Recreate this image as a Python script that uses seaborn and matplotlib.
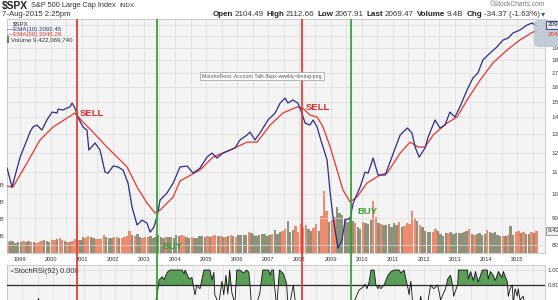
import numpy as np
import pandas as pd
import matplotlib
matplotlib.use("Agg")
import matplotlib.pyplot as plt
import seaborn as sns
from matplotlib.patches import FancyBboxPatch
from matplotlib.ticker import NullLocator

# ---------------- data ----------------
years = list(range(1999, 2016))
price_ticks = [800, 900, 1000, 1100, 1200, 1300, 1400, 1500, 1600, 1700, 1800, 1900, 2000, 2100]
vol_ticks_b = [10, 20, 30, 40]

ema10_t = [1998.60, 1998.76, 1999.02, 1999.34, 1999.43, 1999.56, 1999.72, 1999.88, 2000.05, 2000.21,
           2000.24, 2000.40, 2000.53, 2000.62, 2000.69, 2000.78, 2000.88, 2001.04, 2001.17, 2001.23,
           2001.43, 2001.59, 2001.75, 2001.85, 2002.01, 2002.17, 2002.33, 2002.49, 2002.62, 2002.78,
           2002.94, 2003.10, 2003.20, 2003.32, 2003.42, 2003.52, 2003.74, 2003.94, 2004.16, 2004.39,
           2004.58, 2004.80, 2005.03, 2005.19, 2005.35, 2005.54, 2005.77, 2005.93, 2006.09, 2006.32,
           2006.41, 2006.57, 2006.73, 2006.99, 2007.22, 2007.38, 2007.54, 2007.63, 2007.79, 2007.95,
           2008.08, 2008.18, 2008.34, 2008.44, 2008.57, 2008.66, 2008.89, 2008.99, 2009.08, 2009.24,
           2009.37, 2009.47, 2009.63, 2009.73, 2009.95, 2010.11, 2010.21, 2010.37, 2010.53, 2010.76,
           2011.02, 2011.24, 2011.47, 2011.62, 2011.72, 2011.85, 2012.04, 2012.14, 2012.36, 2012.52,
           2012.68, 2012.84, 2013.00, 2013.16, 2013.39, 2013.58, 2013.74, 2013.90, 2014.13, 2014.35,
           2014.55, 2014.71, 2014.87, 2015.09, 2015.32, 2015.48, 2015.62]
ema10_v = [1121, 1031, 1176, 1313, 1342, 1354, 1324, 1384, 1433, 1427,
           1452, 1446, 1459, 1465, 1491, 1459, 1402, 1342, 1324, 1213,
           1251, 1213, 1101, 1096, 1131, 1126, 1111, 1049, 944, 873,
           892, 880, 846, 865, 904, 974, 1004, 1049, 1126, 1131,
           1096, 1120, 1176, 1197, 1171, 1197, 1213, 1224, 1268, 1296,
           1313, 1268, 1307, 1384, 1427, 1491, 1524, 1491, 1511, 1491,
           1427, 1366, 1354, 1384, 1342, 1284, 1161, 1004, 904, 789,
           817, 892, 900, 961, 1031, 1101, 1096, 1171, 1087, 1087,
           1197, 1296, 1336, 1307, 1229, 1176, 1224, 1284, 1384, 1336,
           1354, 1433, 1402, 1465, 1579, 1664, 1701, 1801, 1857, 1907,
           1966, 1983, 2028, 2054, 2100, 2118, 2092]

ema50_t = [1998.60, 1998.79, 1999.24, 1999.66, 2000.08, 2000.53, 2000.78, 2001.04, 2001.36, 2001.81,
           2002.14, 2002.46, 2002.78, 2003.10, 2003.36, 2003.52, 2003.94, 2004.16, 2004.80, 2005.22,
           2005.77, 2006.32, 2006.64, 2007.06, 2007.47, 2007.92, 2008.11, 2008.34, 2008.57, 2008.76,
           2008.99, 2009.21, 2009.40, 2009.63, 2009.85, 2010.17, 2010.59, 2010.82, 2011.24, 2011.56,
           2011.82, 2012.04, 2012.30, 2012.75, 2013.07, 2013.39, 2013.81, 2014.22, 2014.68, 2015.09,
           2015.51, 2015.62]
ema50_v = [1036, 1031, 1146, 1268, 1342, 1396, 1427, 1372, 1313, 1229,
           1176, 1126, 1031, 961, 920, 932, 987, 1059, 1111, 1176,
           1213, 1256, 1256, 1354, 1427, 1465, 1459, 1414, 1402, 1342,
           1229, 1111, 1018, 966, 987, 1049, 1087, 1096, 1197, 1256,
           1229, 1229, 1296, 1366, 1402, 1511, 1649, 1777, 1882, 1966,
           2036, 2046]

vol_start = "1998-08-01"
volume_b = [6.5, 7.2, 6.8, 6.0, 6.3,
            6.2, 6.8, 6.5, 7.0, 6.6, 6.4, 6.1, 6.3, 6.9, 7.4, 6.8, 6.2,
            7.5, 7.8, 8.4, 8.8, 7.4, 7.0, 6.6, 6.2, 6.8, 8.0, 7.6, 7.9,
            9.3, 8.6, 9.8, 9.4, 8.7, 8.3, 8.2, 8.0, 10.6, 9.7, 9.0, 8.6,
            9.4, 9.2, 8.8, 9.1, 9.3, 10.2, 13.2, 10.8, 10.0, 11.1, 9.6, 8.8,
            9.2, 9.4, 9.8, 9.0, 9.3, 10.4, 9.5, 8.6, 9.4, 9.7, 9.2, 8.8,
            10.4, 10.0, 10.6, 10.1, 9.6, 9.1, 9.5, 8.7, 9.0, 9.8, 10.1, 9.4,
            10.0, 9.7, 10.2, 10.5, 9.8, 10.1, 9.4, 9.3, 9.9, 10.6, 10.0, 9.5,
            10.6, 10.4, 10.8, 10.5, 12.2, 11.8, 10.6, 9.8, 10.7, 11.4, 11.0, 10.2,
            10.5, 11.2, 13.4, 11.4, 12.1, 12.8, 14.2, 19.0, 12.6, 13.4, 15.6, 12.2,
            16.8, 14.9, 16.5, 14.0, 13.2, 14.6, 17.2, 13.0, 22.0, 36.5, 24.5, 18.0,
            19.6, 21.4, 27.0, 23.6, 22.5, 20.6, 18.2, 20.4, 18.6, 17.8, 15.4, 14.2,
            18.4, 17.6, 16.8, 19.2, 30.5, 21.4, 17.8, 16.9, 16.5, 16.2, 17.0, 15.2,
            17.4, 16.2, 18.0, 15.4, 15.6, 17.8, 16.8, 24.5, 20.4, 18.6, 16.2, 15.0,
            12.8, 12.4, 12.5, 12.2, 14.0, 13.2, 11.4, 10.2, 11.8, 12.0, 12.6, 11.2,
            12.0, 11.8, 11.5, 12.3, 12.8, 14.4, 11.0, 10.6, 11.4, 12.0, 10.8, 11.2,
            13.4, 12.2, 11.8, 12.6, 10.4, 10.2, 10.0, 9.8, 10.6, 15.6, 10.8, 12.4,
            13.2, 11.6, 12.4, 11.0, 11.4, 12.2, 11.6, 13.0]
volume_dir = ("d uuuu "
              "udu udu ddd uuu " "ddu ddu dud ddu " "udd uud ddd uuu " "ddu ddd dud uud "
              "ddu uuu uud uuu " "uud duu duu uuu " "dud dud udu dud " "uuu udu uuu uuu "
              "udu uud duu udd " "ddd uud dud ddu " "ddu uuu uuu duu " "duu udd udu uuu "
              "uud udd ddd udu " "uuu ddu uuu duu " "uuu uud udu uuu " "duu uuu dud uud "
              "dud uud ud")

stoch_t = [1998.60, 1998.90, 1999.30, 1999.52, 1999.70, 2000.00, 2000.40, 2000.80, 2001.20, 2001.60,
           2002.00, 2002.40, 2002.80, 2003.10, 2003.36, 2003.42, 2003.52, 2003.58, 2003.68, 2003.77,
           2003.94, 2004.16, 2004.23, 2004.26, 2004.39, 2004.48, 2004.58, 2004.64, 2004.74, 2004.87,
           2005.06, 2005.13, 2005.19, 2005.22, 2005.35, 2005.45, 2005.51, 2005.58, 2005.64, 2005.70,
           2005.77, 2005.87, 2005.93, 2006.03, 2006.15, 2006.25, 2006.32, 2006.35, 2006.41, 2006.57,
           2006.67, 2006.77, 2006.96, 2007.01, 2007.06, 2007.12, 2007.15, 2007.22, 2007.31, 2007.44,
           2007.54, 2007.60, 2007.76, 2007.86, 2008.00, 2008.40, 2008.55, 2009.00, 2009.40, 2009.79,
           2009.88, 2010.01, 2010.08, 2010.14, 2010.21, 2010.27, 2010.37, 2010.43, 2010.50, 2010.53,
           2010.59, 2010.69, 2010.82, 2010.92, 2011.02, 2011.18, 2011.24, 2011.34, 2011.40, 2011.47,
           2011.50, 2011.56, 2011.62, 2011.72, 2011.88, 2011.97, 2012.10, 2012.20, 2012.30, 2012.43,
           2012.52, 2012.68, 2012.75, 2012.84, 2012.91, 2012.94, 2013.07, 2013.10, 2013.39, 2013.42,
           2013.49, 2013.58, 2013.65, 2013.74, 2013.87, 2014.03, 2014.06, 2014.13, 2014.22, 2014.29,
           2014.39, 2014.51, 2014.55, 2014.68, 2014.71, 2014.77, 2014.84, 2014.87, 2014.93, 2015.00,
           2015.03, 2015.09, 2015.19, 2015.26, 2015.40, 2015.62]
stoch_v = [0.30, 0.15, 0.35, 0.62, 0.25, 0.40, 0.20, 0.10, 0.05, 0.15,
           0.30, 0.10, 0.05, 0.20, 0.68, 0.87, 0.91, 0.87, 0.97, 1.00,
           1.00, 1.00, 0.95, 1.00, 0.88, 0.90, 0.67, 0.80, 0.75, 1.00,
           1.00, 0.87, 0.97, 0.67, 0.55, 0.85, 0.67, 0.93, 0.68, 1.00,
           0.70, 0.55, 1.00, 1.00, 0.96, 1.00, 0.97, 0.85, 0.50, 0.55,
           0.68, 1.00, 1.00, 0.93, 1.00, 1.00, 0.80, 0.50, 1.00, 0.95,
           0.82, 0.45, 0.80, 0.45, 0.20, 0.55, 0.25, 0.05, 0.30, 0.64,
           0.73, 0.77, 0.81, 0.75, 0.84, 1.00, 1.00, 0.80, 0.75, 0.80,
           0.75, 0.80, 0.93, 0.98, 1.00, 1.00, 0.96, 1.00, 0.88, 0.75,
           0.67, 0.85, 0.55, 0.30, 0.65, 0.40, 0.55, 0.80, 0.75, 0.80,
           0.60, 0.75, 0.88, 0.93, 0.80, 0.65, 0.80, 1.00, 1.00, 0.88,
           0.98, 0.86, 0.98, 0.84, 1.00, 1.00, 0.88, 0.98, 0.93, 0.86,
           0.98, 0.90, 0.98, 0.84, 0.65, 0.75, 0.80, 0.55, 0.75, 0.65,
           0.75, 0.60, 0.65, 0.50, 0.20, 0.10]

signal_sell = [2000.85, 2008.07]
signal_buy = [2003.42, 2009.66]

# ---------------- style ----------------
sns.set_style("white")
plt.rcParams['font.family'] = ['Liberation Sans', 'DejaVu Sans']

W, H = 558, 300
fig = plt.figure(figsize=(W / 100, H / 100), dpi=100)
fig.patch.set_facecolor('white')


def fx(px):
    return px / W


def fy(py):
    return 1 - py / H


X0, X1 = 1998.598, 2015.897
PANEL_BG = '#f4f4f4'
GRID = '#dcdcdc'
SPINE = '#c4c4c4'
BLUE = '#2c2c8c'
RED = '#e8352b'
GREEN = '#2f9e2f'

# ---------------- main panel: volume (bottom) + price (twin) ----------------
ax_vol = fig.add_axes([fx(7), fy(253), fx(538), 234 / H])
ax_vol.set_facecolor(PANEL_BG)
ax_vol.set_xlim(X0, X1)
ax_vol.set_ylim(0, 137.6)

dates = pd.date_range(vol_start, periods=len(volume_b), freq='MS')
vol_x = np.asarray(dates.year + (dates.month - 0.5) / 12.0, dtype=float)
flags = volume_dir.replace(" ", "")
vol_colors = ['#8a8c72' if f == 'u' else '#ee8466' for f in flags[:len(volume_b)]]
ax_vol.bar(vol_x, volume_b, width=0.075, color=vol_colors, linewidth=0, alpha=0.95, zorder=2)

ax_vol.set_xticks(years)
ax_vol.set_xticklabels([str(y) for y in years])
ax_vol.set_xticks([y - 0.5 for y in years] + [2015.5], minor=True)
ax_vol.grid(axis='x', which='both', color=GRID, lw=0.5)
ax_vol.set_axisbelow(True)
ax_vol.tick_params(axis='x', which='both', length=0, pad=3.2, labelsize=4.1, labelcolor='#333')
ax_vol.set_yticks(vol_ticks_b)
ax_vol.set_yticklabels([f"{v}B" for v in vol_ticks_b])
ax_vol.tick_params(axis='y', length=0, pad=1.9, labelsize=4.3, labelcolor='#444')
for s in ax_vol.spines.values():
    s.set_color(SPINE)
    s.set_linewidth(0.6)

ax = ax_vol.twinx()
sns.lineplot(x=ema50_t, y=ema50_v, ax=ax, color=RED, lw=0.9, zorder=3)
sns.lineplot(x=ema10_t, y=ema10_v, ax=ax, color=BLUE, lw=0.9, zorder=4)
ax.set_yscale('log')
ax.set_ylim(772, 2156)
ax.set_xlim(X0, X1)
ax.yaxis.set_major_locator(plt.FixedLocator(price_ticks))
ax.yaxis.set_minor_locator(NullLocator())
# the 2000 / 2100 levels are covered by the value tags in the reference
ax.set_yticklabels(['' if v >= 2000 else str(v) for v in price_ticks])
ax.tick_params(axis='y', which='both', length=0, pad=4.6, labelsize=4.6, labelcolor='#444')
ax.grid(axis='y', which='major', color=GRID, lw=0.5)
ax.set_xlabel('')
ax.set_ylabel('')
for s in ax.spines.values():
    s.set_visible(False)

# SELL / BUY labels
ax.text(2000.95, 1427, 'SELL', color='#e02a2a', fontsize=6.8, fontweight='bold', va='center', ha='left')
ax.text(2008.21, 1465, 'SELL', color='#e02a2a', fontsize=6.8, fontweight='bold', va='center', ha='left')
ax.text(2003.58, 796, 'BUY', color='#34a034', fontsize=6.8, fontweight='bold', va='center', ha='left')
ax.text(2009.85, 928, 'BUY', color='#34a034', fontsize=6.8, fontweight='bold', va='center', ha='left')

# ---------------- lower panel: StochRSI ----------------
ax_low = fig.add_axes([fx(7), 0, fx(538), 35 / H])
ax_low.set_facecolor(PANEL_BG)
ax_low.set_xlim(X0, X1)
ax_low.set_ylim(0.6, 1.067)
ax_low.set_xticks(years)
ax_low.set_xticks([y - 0.5 for y in years] + [2015.5], minor=True)
ax_low.grid(axis='x', which='both', color=GRID, lw=0.5)
ax_low.set_axisbelow(True)
ax_low.tick_params(axis='x', which='both', length=0, labelbottom=False)
st = np.array(stoch_t)
sv = np.array(stoch_v)
ax_low.fill_between(st, 0.8, sv, where=sv >= 0.8, interpolate=True, color='#5a9e58', lw=0, zorder=2)
ax_low.axhline(1.0, color=GRID, lw=0.5, zorder=1)
ax_low.axhline(0.8, color='#2a2a2a', lw=0.9, zorder=3)
sns.lineplot(x=stoch_t, y=stoch_v, ax=ax_low, color='#111111', lw=0.6, zorder=4)
ax_low.set_xlabel('')
ax_low.set_ylabel('')
ax_low.yaxis.tick_right()
ax_low.set_yticks([0.8, 1.0])
ax_low.set_yticklabels(['0.80', '1.00'])
ax_low.tick_params(axis='y', length=0, pad=2.0, labelsize=4.4, labelcolor='#444')
for k, s in ax_low.spines.items():
    s.set_color(SPINE)
    s.set_linewidth(0.6)
ax_low.spines['bottom'].set_visible(False)
fig.text(fx(9), fy(271.5), '\u25b2', color='#3e8e3e', fontsize=3.2, va='center', ha='left')
fig.text(fx(14), fy(271.5), 'StochRSI(92) 0.000', color='#333', fontsize=5.3, va='center', ha='left')

# ---------------- signal lines spanning all panels ----------------
ax_ov = fig.add_axes([fx(7), 0, fx(538), fy(19)])
ax_ov.set_xlim(X0, X1)
ax_ov.set_ylim(0, 1)
ax_ov.axis('off')
ax_ov.set_zorder(10)
for t in signal_sell:
    ax_ov.axvline(t, color=RED, lw=1.25)
for t in signal_buy:
    ax_ov.axvline(t, color=GREEN, lw=1.25)

# ---------------- header texts ----------------
renderer = fig.canvas.get_renderer()


def seq(parts, x, y, ha='left'):
    objs = []
    for txt, kw, gap in parts:
        t = fig.text(0, fy(y), txt, va='center', ha='left', zorder=12, **kw)
        objs.append((t, t.get_window_extent(renderer).width, gap))
    total = sum(w for _, w, _ in objs) + sum(g for _, _, g in objs[:-1])
    cur = x if ha == 'left' else x - total
    for t, w, g in objs:
        t.set_x(fx(cur))
        cur += w + g


seq([("\\$SPX", dict(fontsize=7.4, fontweight='bold', color='#222'), 3),
     ("S&P 500 Large Cap Index", dict(fontsize=5.3, color='#333'), 3),
     ("INDX", dict(fontsize=4.6, color='#333'), 0)], 2, 5.5)
fig.text(fx(2), fy(14.5), "7-Aug-2015 2:25pm", fontsize=5.6, color='#333', va='center', ha='left')

B = dict(fontsize=5.8, fontweight='bold', color='#222')
N = dict(fontsize=5.8, color='#333')
seq([("Open", B, 1.5), ("2104.49", N, 3), ("High", B, 1.5), ("2112.66", N, 3),
     ("Low", B, 1.5), ("2067.91", N, 3), ("Last", B, 1.5), ("2069.47", N, 3),
     ("Volume", B, 1.5), ("9.4B", N, 3), ("Chg", B, 1.5), ("-34.37 (-1.63%)", N, 1.5),
     ("\u25be", dict(fontsize=5.8, color='#3355aa'), 0)], 545, 15, ha='right')
fig.text(fx(545), fy(5), "\u00a9StockCharts.com", fontsize=4.8, color='#777', va='center', ha='right')

# legend inside the main panel
fig.text(fx(13), fy(24), "\\$SPX", fontsize=4.4, color='#333', va='center', ha='left', zorder=12)
fig.text(fx(7), fy(29.5), "\u2014EMA(10) 2092.45", fontsize=4.4, color=BLUE, va='center', ha='left', zorder=12)
fig.text(fx(7), fy(34.5), "\u2014EMA(50) 2046.29", fontsize=4.4, color=RED, va='center', ha='left', zorder=12)
fig.text(fx(7), fy(39.5), "\u258c", fontsize=4.0, color='#5a8a4a', va='center', ha='left', zorder=12)
fig.text(fx(11), fy(39.5), "Volume 9,422,069,740", fontsize=4.4, color='#333', va='center', ha='left', zorder=12)

# annotation box
fig.text(fx(262), fy(76), "MolohnRoss' Account Talk-\\$spx-weekly-timing-png", fontsize=3.8, color='#555',
         va='center', ha='center', zorder=12,
         bbox=dict(boxstyle='square,pad=0.35', fc='white', ec='#9a9a9a', lw=0.5))

# right-side value tags
box = FancyBboxPatch((fx(534), fy(47)), fx(30), 27 / H, boxstyle='round,pad=0,rounding_size=0.01',
                     transform=fig.transFigure, fc='#b9c5d1', ec='none', alpha=0.85, zorder=11)
fig.add_artist(box)
fig.text(fx(548), fy(25), "2092.45", fontsize=4.6, color='#222', va='center', ha='left', zorder=13,
         bbox=dict(boxstyle='square,pad=0.25', fc='#e8ecf0', ec=BLUE, lw=0.6))
fig.text(fx(548), fy(35), "2046.29", fontsize=4.6, color=RED, va='center', ha='left', zorder=13)
fig.text(fx(548), fy(231), "9.42B", fontsize=4.6, color='#333', va='center', ha='left', zorder=13,
         bbox=dict(boxstyle='square,pad=0.25', fc='#eeeeee', ec='#777', lw=0.5))

fig.savefig("out.png", dpi=100, facecolor='white')
